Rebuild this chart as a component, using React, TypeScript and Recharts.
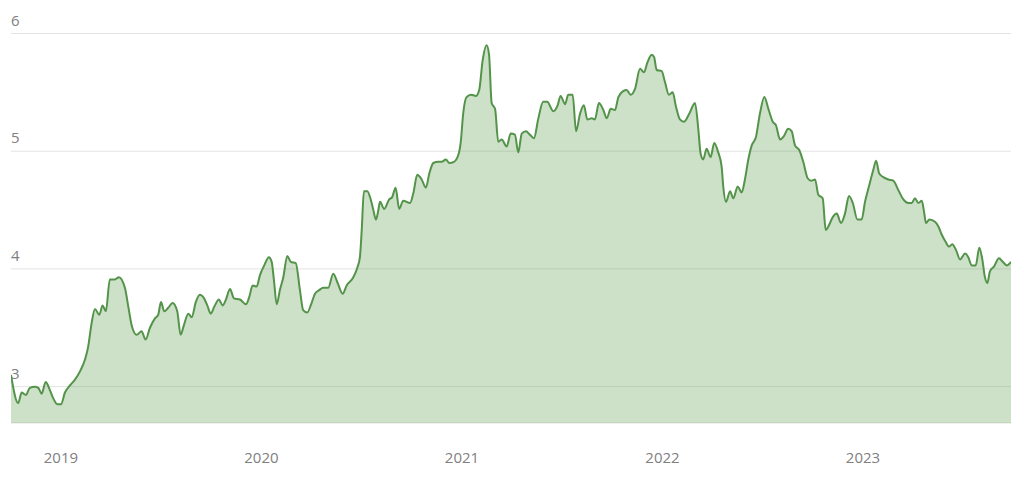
import React from 'react';
import { AreaChart, Area, XAxis, YAxis, CartesianGrid } from 'recharts';

// time as fractional years
const dates2018 = [2018.751, 2018.787, 2018.804, 2018.825, 2018.845, 2018.87, 2018.887, 2018.904, 2018.924, 2018.945, 2018.962, 2018.982];
const rates2018 = [3.1, 2.86, 2.95, 2.93, 2.99, 3.0, 2.99, 2.94, 3.04, 2.97, 2.9, 2.85];

const dates2019 = [
  2019.0, 2019.02, 2019.045, 2019.07, 2019.095, 2019.12, 2019.136, 2019.153, 2019.17, 2019.191,
  2019.208, 2019.224, 2019.244, 2019.269, 2019.289, 2019.319, 2019.336, 2019.353, 2019.378, 2019.402,
  2019.422, 2019.444, 2019.469, 2019.485, 2019.499, 2019.515, 2019.535, 2019.557, 2019.58, 2019.597,
  2019.613, 2019.635, 2019.652, 2019.673, 2019.693, 2019.71, 2019.73, 2019.747, 2019.765, 2019.788,
  2019.806, 2019.823, 2019.843, 2019.863, 2019.893, 2019.923, 2019.939, 2019.956, 2019.976, 2019.993,
];
const rates2019 = [
  2.85, 2.95, 3.01, 3.06, 3.13, 3.23, 3.34, 3.54, 3.66, 3.61,
  3.69, 3.64, 3.91, 3.91, 3.93, 3.84, 3.68, 3.52, 3.44, 3.47,
  3.4, 3.5, 3.58, 3.61, 3.72, 3.64, 3.67, 3.71, 3.64, 3.44,
  3.52, 3.62, 3.59, 3.72, 3.78, 3.76, 3.69, 3.62, 3.68, 3.74,
  3.69, 3.74, 3.83, 3.75, 3.74, 3.7, 3.76, 3.86, 3.85, 3.95,
];

const dates2020 = [
  2020.014, 2020.037, 2020.051, 2020.062, 2020.076, 2020.092, 2020.109, 2020.129, 2020.146, 2020.171,
  2020.192, 2020.208, 2020.228, 2020.25, 2020.267, 2020.288, 2020.308, 2020.333, 2020.358, 2020.38,
  2020.405, 2020.425, 2020.455, 2020.478, 2020.491, 2020.5, 2020.511, 2020.528, 2020.545, 2020.558,
  2020.571, 2020.583, 2020.591, 2020.612, 2020.637, 2020.652, 2020.669, 2020.687, 2020.707, 2020.741,
  2020.757, 2020.777, 2020.799, 2020.82, 2020.837, 2020.857, 2020.882, 2020.899, 2020.92, 2020.937,
  2020.96, 2020.982, 2020.994,
];
const rates2020 = [
  4.03, 4.1, 4.06, 3.91, 3.7, 3.82, 3.93, 4.11, 4.06, 4.05,
  3.82, 3.65, 3.63, 3.71, 3.79, 3.82, 3.84, 3.84, 3.96, 3.88,
  3.79, 3.86, 3.92, 4.01, 4.1, 4.33, 4.66, 4.66, 4.59, 4.5,
  4.42, 4.5, 4.57, 4.51, 4.59, 4.61, 4.69, 4.51, 4.58, 4.56,
  4.64, 4.8, 4.76, 4.69, 4.81, 4.9, 4.91, 4.91, 4.93, 4.9,
  4.91, 4.97, 5.08,
];

const dates2021 = [
  2021.006, 2021.023, 2021.045, 2021.07, 2021.086, 2021.103, 2021.123, 2021.135, 2021.148, 2021.165,
  2021.181, 2021.198, 2021.223, 2021.243, 2021.264, 2021.281, 2021.298, 2021.319, 2021.339, 2021.359,
  2021.381, 2021.405, 2021.425, 2021.455, 2021.477, 2021.492, 2021.514, 2021.53, 2021.552, 2021.569,
  2021.589, 2021.608, 2021.625, 2021.647, 2021.663, 2021.683, 2021.705, 2021.722, 2021.742, 2021.763,
  2021.78, 2021.804, 2021.821, 2021.841, 2021.863, 2021.888, 2021.908, 2021.924, 2021.946, 2021.958,
  2021.971, 2021.996,
];
const rates2021 = [
  5.32, 5.46, 5.48, 5.47, 5.52, 5.77, 5.9, 5.82, 5.41, 5.36,
  5.08, 5.1, 5.04, 5.15, 5.14, 4.99, 5.15, 5.17, 5.14, 5.11,
  5.28, 5.42, 5.42, 5.34, 5.39, 5.47, 5.4, 5.48, 5.48, 5.17,
  5.32, 5.39, 5.27, 5.28, 5.27, 5.41, 5.35, 5.28, 5.36, 5.35,
  5.46, 5.51, 5.52, 5.48, 5.53, 5.7, 5.67, 5.75, 5.82, 5.8,
  5.69, 5.68,
];

const dates2022 = [
  2022.012, 2022.032, 2022.051, 2022.067, 2022.087, 2022.107, 2022.134, 2022.162, 2022.179, 2022.19,
  2022.203, 2022.22, 2022.24, 2022.258, 2022.278, 2022.295, 2022.303, 2022.317, 2022.337, 2022.353,
  2022.375, 2022.395, 2022.411, 2022.428, 2022.445, 2022.466, 2022.486, 2022.508, 2022.528, 2022.55,
  2022.566, 2022.586, 2022.606, 2022.627, 2022.644, 2022.661, 2022.682, 2022.702, 2022.724, 2022.741,
  2022.761, 2022.777, 2022.799, 2022.814, 2022.827, 2022.849, 2022.869, 2022.89, 2022.91, 2022.93,
  2022.949, 2022.972, 2022.993,
];
const rates2022 = [
  5.59, 5.48, 5.5, 5.38, 5.27, 5.25, 5.32, 5.41, 5.18, 4.98,
  4.93, 5.02, 4.95, 5.07, 4.99, 4.87, 4.7, 4.57, 4.66, 4.6,
  4.7, 4.65, 4.76, 4.93, 5.05, 5.12, 5.32, 5.46, 5.36, 5.25,
  5.22, 5.1, 5.13, 5.19, 5.17, 5.05, 5.01, 4.91, 4.77, 4.75,
  4.76, 4.63, 4.6, 4.33, 4.36, 4.44, 4.47, 4.39, 4.47, 4.62,
  4.56, 4.42, 4.42,
];

const dates2023 = [
  2023.01, 2023.031, 2023.051, 2023.065, 2023.081, 2023.101, 2023.126, 2023.151, 2023.176, 2023.201,
  2023.226, 2023.243, 2023.259, 2023.276, 2023.293, 2023.304, 2023.314, 2023.331, 2023.359, 2023.376,
  2023.393, 2023.412, 2023.429, 2023.445, 2023.464, 2023.484, 2023.509, 2023.525, 2023.542, 2023.562,
  2023.58, 2023.595, 2023.608, 2023.62, 2023.633, 2023.653, 2023.678, 2023.697, 2023.717, 2023.738,
];
const rates2023 = [
  4.57, 4.71, 4.84, 4.92, 4.81, 4.78, 4.76, 4.75, 4.67, 4.59,
  4.56, 4.56, 4.6, 4.56, 4.58, 4.49, 4.39, 4.42, 4.4, 4.36,
  4.29, 4.23, 4.19, 4.21, 4.16, 4.08, 4.13, 4.1, 4.03, 4.03,
  4.18, 4.08, 3.93, 3.88, 3.98, 4.02, 4.09, 4.06, 4.03, 4.06,
];

const yearTicks = [2019, 2020, 2021, 2022, 2023];
const valueTicks = [3, 4, 5, 6];

const dates = [...dates2018, ...dates2019, ...dates2020, ...dates2021, ...dates2022, ...dates2023];
const rates = [...rates2018, ...rates2019, ...rates2020, ...rates2021, ...rates2022, ...rates2023];
const data = dates.map((t, i) => ({ t, v: rates[i] }));

const FONT = '"Open Sans", sans-serif';
const LABEL = '#808080';

const YTick = (props: any) => {
  const { y, payload } = props;
  return (
    <text x={11} y={y - 8} textAnchor="start" fill={LABEL} fontSize={15} fontFamily={FONT}>
      {payload.value}
    </text>
  );
};

const XTick = (props: any) => {
  const { x, payload } = props;
  return (
    <text x={x} y={463} textAnchor="middle" fill={LABEL} fontSize={15} fontFamily={FONT}>
      {payload.value}
    </text>
  );
};

export default function App() {
  return (
    <div style={{ position: 'absolute', left: 0, top: 0, width: 1024, height: 479, background: '#fff' }}>
      <AreaChart width={1024} height={479} data={data} margin={{ top: 33.5, right: 13, left: 1, bottom: 0 }}>
        <CartesianGrid horizontal vertical={false} stroke="#e3e3e3" />
        <XAxis
          dataKey="t"
          type="number"
          domain={[2018.751, 2023.738]}
          ticks={yearTicks}
          axisLine={false}
          tickLine={false}
          height={56}
          tick={<XTick />}
          allowDataOverflow
        />
        <YAxis
          type="number"
          domain={[2.691, 6]}
          ticks={valueTicks}
          interval={0}
          width={10}
          axisLine={false}
          tickLine={false}
          tick={<YTick />}
          allowDataOverflow
        />
        <Area
          type="monotone"
          dataKey="v"
          stroke="#54934a"
          strokeWidth={2}
          fill="#5c9a4f"
          fillOpacity={0.31}
          baseValue="dataMin"
          isAnimationActive={false}
          dot={false}
          activeDot={false}
        />
      </AreaChart>
    </div>
  );
}
